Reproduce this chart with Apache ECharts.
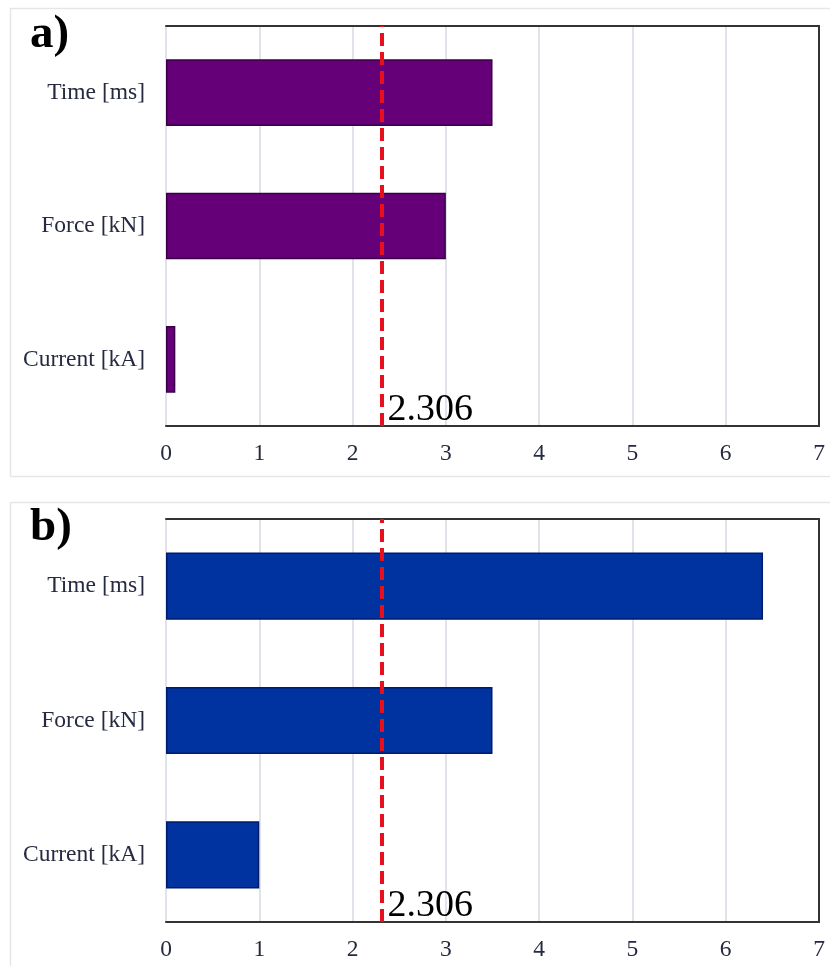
<!DOCTYPE html>
<html>
<head>
<meta charset="utf-8">
<script src="https://cdn.jsdelivr.net/npm/echarts@6/dist/echarts.min.js"></script>
<style>
html,body{margin:0;padding:0;background:#fff;}
#chart{width:830px;height:966px;}
</style>
</head>
<body>
<div id="chart"></div>
<script>
// ---- data ----
const categories = ['Current [kA]', 'Force [kN]', 'Time [ms]'];
const valuesA = [0.1, 3.0, 3.5];
const valuesB = [1.0, 3.5, 6.4];
const criticalValue = 2.306;
const panelLabels = ['a)', 'b)'];
const xMin = 0, xMax = 7, xStep = 1;

// ---- styles ----
const serif = '"Liberation Serif", "Times New Roman", serif';
const textColor = '#262a40';
const gridLineColor = '#e0e3ea';
const frameColor = '#333333';

function bottomX(gridIndex) {
  return {
    gridIndex: gridIndex, type: 'value', position: 'bottom',
    min: xMin, max: xMax, interval: xStep,
    axisLine: {show: true, lineStyle: {color: frameColor, width: 2}},
    axisTick: {show: false},
    axisLabel: {fontFamily: serif, fontSize: 23.5, color: textColor, margin: 16},
    splitLine: {show: true, lineStyle: {color: gridLineColor, width: 2}}
  };
}
function topX(gridIndex) {
  return {
    gridIndex: gridIndex, type: 'value', position: 'top',
    min: xMin, max: xMax, interval: xStep,
    axisLine: {show: true, onZero: false, lineStyle: {color: frameColor, width: 2}},
    axisTick: {show: false}, axisLabel: {show: false}, splitLine: {show: false}
  };
}
function leftY(gridIndex) {
  return {
    gridIndex: gridIndex, type: 'category', position: 'left', data: categories,
    axisLine: {show: false}, axisTick: {show: false},
    axisLabel: {fontFamily: serif, fontSize: 23.5, color: textColor, margin: 21},
    splitLine: {show: false}
  };
}
function rightY(gridIndex) {
  return {
    gridIndex: gridIndex, type: 'category', position: 'right', data: categories,
    axisLine: {show: true, onZero: false, lineStyle: {color: frameColor, width: 2}},
    axisTick: {show: false}, axisLabel: {show: false}, splitLine: {show: false}
  };
}
function critLine() {
  return {
    silent: true,
    symbol: ['none', 'none'],
    lineStyle: {color: '#e8101c', width: 4, type: [13, 6]},
    label: {
      show: true, position: 'start', formatter: String(criticalValue),
      align: 'left', verticalAlign: 'bottom', distance: 3,
      padding: [0, 0, 0, 6],
      fontFamily: serif, fontSize: 38, color: '#000'
    },
    data: [{xAxis: criticalValue}]
  };
}

const chart = echarts.init(document.getElementById('chart'));
chart.setOption({
  animation: false,
  backgroundColor: '#ffffff',
  graphic: [
    {type: 'rect', shape: {x: 10.5, y: 8.5, width: 830, height: 468}, style: {fill: 'none', stroke: '#e4e6ea', lineWidth: 1.5}, z: -10},
    {type: 'rect', shape: {x: 10.5, y: 502.5, width: 830, height: 480}, style: {fill: 'none', stroke: '#e4e6ea', lineWidth: 1.5}, z: -10},
    {type: 'text', left: 30, top: 11, style: {text: panelLabels[0], fontFamily: serif, fontWeight: 'bold', fontSize: 47, fill: '#000'}},
    {type: 'text', left: 30, top: 504, style: {text: panelLabels[1], fontFamily: serif, fontWeight: 'bold', fontSize: 47, fill: '#000'}}
  ],
  grid: [
    {left: 166, top: 26, width: 653, height: 400},
    {left: 166, top: 519, width: 653, height: 403}
  ],
  xAxis: [bottomX(0), topX(0), bottomX(1), topX(1)],
  yAxis: [leftY(0), rightY(0), leftY(1), rightY(1)],
  series: [
    {
      type: 'bar', xAxisIndex: 0, yAxisIndex: 0, data: valuesA, barWidth: '50%',
      itemStyle: {color: '#650078', borderColor: '#3a0047', borderWidth: 1.5},
      markLine: critLine()
    },
    {
      type: 'bar', xAxisIndex: 2, yAxisIndex: 2, data: valuesB, barWidth: '50%',
      itemStyle: {color: '#0033a0', borderColor: '#001b6b', borderWidth: 1.5},
      markLine: critLine()
    }
  ]
});
</script>
</body>
</html>
